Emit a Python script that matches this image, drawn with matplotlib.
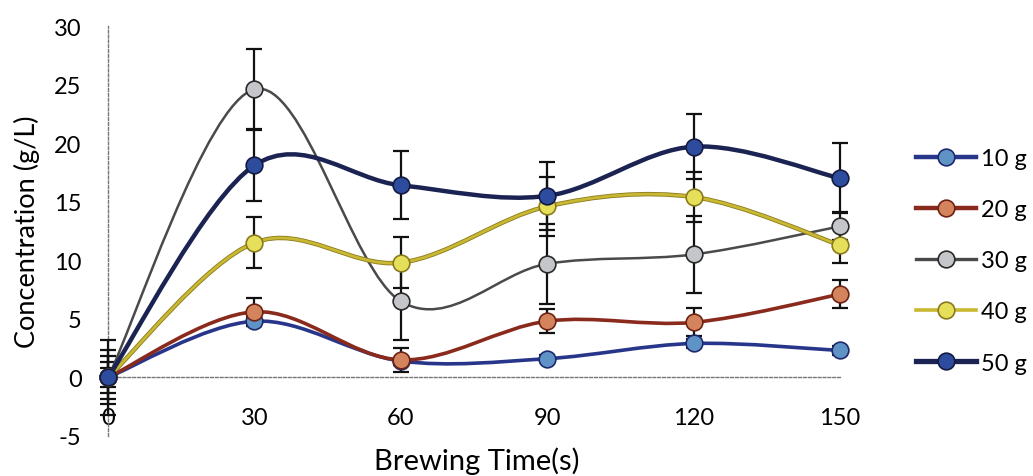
import matplotlib
matplotlib.use('Agg')
import matplotlib.pyplot as plt
import numpy as np
from matplotlib.path import Path
from matplotlib.patches import PathPatch
from matplotlib.lines import Line2D
import matplotlib.patheffects as pe

plt.rcParams['font.family'] = ['Lato', 'DejaVu Sans']
plt.rcParams['axes.unicode_minus'] = False

# brewing time (s)
brew_time = [0, 30, 60, 90, 120, 150]
labels = ['10 g', '20 g', '30 g', '40 g', '50 g']

# concentration (g/L) for each tea mass
conc_10g = [0, 4.8, 1.4, 1.6, 2.9, 2.3]
conc_20g = [0, 5.6, 1.5, 4.8, 4.7, 7.1]
conc_30g = [0, 24.6, 6.5, 9.7, 10.5, 12.9]
conc_40g = [0, 11.5, 9.8, 14.6, 15.4, 11.3]
conc_50g = [0, 18.1, 16.4, 15.5, 19.7, 17.0]

# standard deviations
err_10g = [0.8, 0.4, 0.3, 0.3, 0.4, 0.4]
err_20g = [1.3, 1.2, 1.0, 1.0, 1.2, 1.2]
err_30g = [3.2, 3.4, 3.3, 3.4, 3.3, 1.2]
err_40g = [1.8, 2.2, 2.2, 2.5, 2.1, 1.5]
err_50g = [2.3, 3.0, 2.9, 2.9, 2.8, 3.0]

series = [conc_10g, conc_20g, conc_30g, conc_40g, conc_50g]
errors = [err_10g, err_20g, err_30g, err_40g, err_50g]

line_cols = ['#27368a', '#8a2a1c', '#4a4a4a', '#c9b832', '#1b2352']
edge_cols = ['#1e2a6e', '#6e2214', '#2a2a2a', '#8a7a1e', '#141a40']
face_cols = ['#5f93c6', '#d4845c', '#c4c6ca', '#e6df5a', '#2e4c9e']
widths = [2.6, 2.6, 1.8, 2.0, 3.2]


def smooth_path(x, y):
    # cubic bezier through every point, excel style smoothing
    pts = np.column_stack([x, y]).astype(float)
    n = len(pts)
    verts = [pts[0]]
    codes = [Path.MOVETO]
    for i in range(n - 1):
        p0 = pts[max(i - 1, 0)]
        p1 = pts[i]
        p2 = pts[i + 1]
        p3 = pts[min(i + 2, n - 1)]
        verts += [p1 + (p2 - p0) / 6, p2 - (p3 - p1) / 6, p2]
        codes += [Path.CURVE4] * 3
    return Path(verts, codes)


fig = plt.figure(figsize=(10.33, 4.77), dpi=100)
ax = fig.add_axes([108 / 1033, 1 - 437 / 477, (840 - 108) / 1033, (437 - 27) / 477])

for i in range(5):
    ax.errorbar(brew_time, series[i], yerr=errors[i], fmt='none', ecolor='#111111',
                elinewidth=1.6, capsize=6, capthick=1.6, zorder=3, clip_on=False)

for i in range(5):
    patch = PathPatch(smooth_path(brew_time, series[i]), fill=False,
                      edgecolor=line_cols[i], lw=widths[i], zorder=4, clip_on=False)
    if i == 3:
        patch.set_path_effects([pe.Stroke(linewidth=widths[i] + 1.2, foreground=edge_cols[i]), pe.Normal()])
    ax.add_patch(patch)
    ax.plot(brew_time, series[i], 'o', ms=12, mfc=face_cols[i], mec=edge_cols[i],
            mew=1.2, zorder=5, clip_on=False)

ax.set_xlim(0, 150)
ax.set_ylim(-5, 30)
ax.set_xticks(brew_time)
ax.set_yticks(range(-5, 31, 5))

for s in ['top', 'right']:
    ax.spines[s].set_visible(False)
ax.spines['bottom'].set_position(('data', 0))
for s in ['left', 'bottom']:
    ax.spines[s].set_color('#777777')
    ax.spines[s].set_linestyle((0, (2, 1.5)))
    ax.spines[s].set_linewidth(1.0)

ax.tick_params(axis='y', length=0, pad=19, labelsize=17)
ax.tick_params(axis='x', length=0, pad=21, labelsize=17)

fig.text(27 / 1033, 1 - 232 / 477, 'Concentration (g/L)', rotation=90,
         ha='center', va='center', fontsize=19.5)
fig.text(477 / 1033, 1 - 470 / 477, 'Brewing Time(s)', ha='center', va='baseline', fontsize=21)

handles = [Line2D([0], [0], color=line_cols[i], lw=widths[i] + 0.6, marker='o', ms=12,
                  mfc=face_cols[i], mec=edge_cols[i], mew=1.2) for i in range(5)]
fig.legend(handles, labels, loc='upper left', bbox_to_anchor=(904 / 1033, 1 - 137 / 477),
           frameon=False, fontsize=17, handlelength=2.55, labelspacing=1.28,
           handletextpad=0.2, borderpad=0)

fig.savefig('out.png', dpi=100)
